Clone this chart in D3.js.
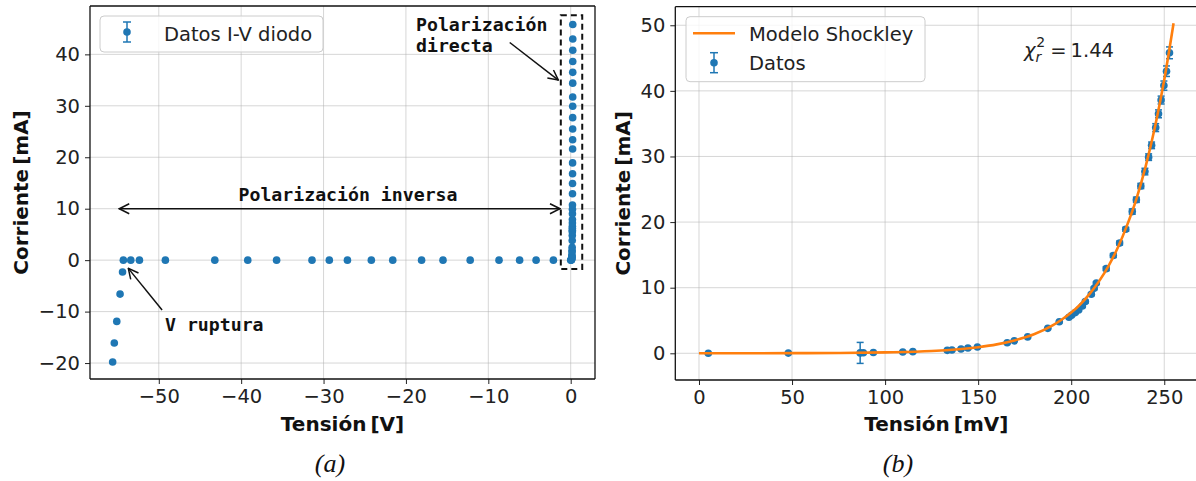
<!DOCTYPE html>
<html>
<head>
<meta charset="utf-8">
<script src="https://cdn.jsdelivr.net/npm/d3@7"></script>
<style>
  body { margin: 0; background: #fff; }
  svg { display: block; font-family: "DejaVu Sans", sans-serif; }
</style>
</head>
<body>
<svg id="chart" width="1196" height="481"></svg>
<script>
// forward bias data (mV, mA) with current uncertainty
const fwdV = [5.0, 48.0, 86.6, 88.3, 93.7, 109.5, 114.9, 133.4, 135.9, 140.8, 144.5, 149.6,
  165.6, 169.4, 176.6, 187.4, 193.6, 198.8, 200.2, 202.2, 204.0, 206.0, 207.6, 210.8, 212.3, 213.5,
  218.8, 222.6, 226.0, 229.3, 232.8, 235.0, 237.4, 239.6, 241.6, 243.2, 245.4, 246.9, 248.3, 249.8, 251.2, 252.8];
const fwdI = [0.0, 0.03, 0.06, 0.08, 0.12, 0.2, 0.25, 0.45, 0.5, 0.65, 0.8, 0.95,
  1.6, 1.9, 2.5, 3.8, 4.8, 5.5, 5.8, 6.2, 6.6, 7.2, 7.9, 9.0, 9.9, 10.7,
  12.9, 14.9, 16.8, 18.9, 21.6, 23.4, 25.5, 27.7, 29.9, 31.7, 34.4, 36.5, 38.6, 40.8, 43.0, 45.8];
const fwdErr = [0.1, 0.1, 1.6, 0.1, 0.1, 0.1, 0.1, 0.1, 0.1, 0.1, 0.1, 0.1,
  0.1, 0.1, 0.1, 0.1, 0.1, 0.1, 0.1, 0.1, 0.1, 0.2, 0.2, 0.2, 0.2, 0.2,
  0.3, 0.3, 0.3, 0.3, 0.4, 0.4, 0.4, 0.5, 0.5, 0.5, 0.6, 0.6, 0.6, 0.7, 0.8, 0.9];

// reverse bias data (V, mA)
const revV = [-55.6, -55.4, -55.1, -54.7, -54.4, -54.3, -53.4, -52.35, -49.2, -43.2, -39.2, -35.7,
  -31.4, -29.3, -27.1, -24.2, -21.6, -18.1, -15.5, -12.2, -8.7, -6.2, -4.2, -2.1];
const revI = [-19.8, -16.1, -11.9, -6.6, -2.3, 0, 0, 0, 0, 0, 0, 0,
  0, 0, 0, 0, 0, 0, 0, 0, 0, 0, 0, 0];

// Shockley model curve
const modelV = [0, 25, 50, 75, 100, 125, 150, 160, 170, 180, 190, 195, 200, 205, 210, 215, 220,
  225, 230, 235, 240, 245, 250, 255];
const modelI = [0, 0.005, 0.02, 0.05, 0.14, 0.35, 0.93, 1.36, 2.0, 2.9, 4.25, 5.15, 6.2, 7.5, 9.1, 11.0, 13.3,
  16.1, 19.5, 23.5, 28.5, 34.5, 41.7, 50.3];

const ticksAx = [-50, -40, -30, -20, -10, 0];
const ticksAy = [-20, -10, 0, 10, 20, 30, 40];
const ticksBx = [0, 50, 100, 150, 200, 250];
const ticksBy = [0, 10, 20, 30, 40, 50];

const blue = "#1f77b4", orange = "#ff7f0e";
const FS = 19.5;
const svg = d3.select("#chart");
const fmt = d => d < 0 ? "\u2212" + Math.abs(d) : String(d);

function panel(xs, ys, xt, yt, spines) {
  const g = svg.append("g");
  const [x0, x1] = xs.range(), [y0, y1] = ys.range();
  // grid
  g.append("g").selectAll("line").data(xt).join("line")
    .attr("x1", d => xs(d)).attr("x2", d => xs(d)).attr("y1", y0).attr("y2", y1)
    .attr("stroke", "#b0b0b0").attr("stroke-opacity", 0.5).attr("stroke-width", 1);
  g.append("g").selectAll("line").data(yt).join("line")
    .attr("y1", d => ys(d)).attr("y2", d => ys(d)).attr("x1", x0).attr("x2", x1)
    .attr("stroke", "#b0b0b0").attr("stroke-opacity", 0.5).attr("stroke-width", 1);
  const ax = g.append("g").attr("transform", `translate(0,${y0})`)
    .call(d3.axisBottom(xs).tickValues(xt).tickFormat(fmt).tickSize(5).tickPadding(5));
  const ay = g.append("g").attr("transform", `translate(${x0},0)`)
    .call(d3.axisLeft(ys).tickValues(yt).tickFormat(fmt).tickSize(5).tickPadding(5));
  [ax, ay].forEach(a => {
    a.select(".domain").remove();
    a.selectAll("text").attr("font-size", FS).attr("fill", "#222").attr("font-family", "DejaVu Sans");
    a.selectAll(".tick line").attr("stroke", "#222");
  });
  const sp = g.append("g").attr("stroke", "#111").attr("stroke-width", 1.3);
  sp.append("line").attr("x1", x0).attr("x2", x0).attr("y1", y0).attr("y2", y1);
  sp.append("line").attr("x1", x0).attr("x2", x1).attr("y1", y0).attr("y2", y0);
  sp.append("line").attr("x1", x0).attr("x2", x1).attr("y1", y1).attr("y2", y1);
  if (spines) sp.append("line").attr("x1", x1).attr("x2", x1).attr("y1", y0).attr("y2", y1);
  return g;
}

function axisLabels(x0, x1, y0, y1, xl, yl, lx) {
  svg.append("text").attr("x", (x0 + x1) / 2).attr("y", 431).attr("text-anchor", "middle")
    .attr("font-size", 20).attr("font-weight", "bold").attr("fill", "#111").text(xl);
  svg.append("text").attr("transform", `translate(${lx},${(y0 + y1) / 2}) rotate(-90)`)
    .attr("text-anchor", "middle").attr("font-size", 20).attr("font-weight", "bold")
    .attr("fill", "#111").text(yl);
}

svg.append("defs").append("marker").attr("id", "arr").attr("viewBox", "0 0 12 12")
  .attr("refX", 11).attr("refY", 6).attr("markerWidth", 12).attr("markerHeight", 12)
  .attr("markerUnits", "userSpaceOnUse").attr("orient", "auto-start-reverse")
  .append("path").attr("d", "M1,1 L11,6 L1,11").attr("fill", "none").attr("stroke", "#111").attr("stroke-width", 1.5);

function errPoints(g, data, xs, ys) {
  const e = g.append("g").attr("stroke", blue).attr("stroke-width", 1.5);
  data.forEach(d => {
    if (d.e <= 0) return;
    e.append("line").attr("x1", xs(d.x)).attr("x2", xs(d.x)).attr("y1", ys(d.y - d.e)).attr("y2", ys(d.y + d.e));
    [d.y - d.e, d.y + d.e].forEach(v => e.append("line").attr("x1", xs(d.x) - 3.5).attr("x2", xs(d.x) + 3.5)
      .attr("y1", ys(v)).attr("y2", ys(v)));
  });
  g.append("g").selectAll("circle").data(data).join("circle")
    .attr("cx", d => xs(d.x)).attr("cy", d => ys(d.y)).attr("r", 3.8).attr("fill", blue);
}

function legendErr(g, x, y) {
  g.append("line").attr("x1", x).attr("x2", x).attr("y1", y - 10).attr("y2", y + 10).attr("stroke", blue).attr("stroke-width", 1.5);
  [y - 10, y + 10].forEach(v => g.append("line").attr("x1", x - 4).attr("x2", x + 4).attr("y1", v).attr("y2", v)
    .attr("stroke", blue).attr("stroke-width", 1.5));
  g.append("circle").attr("cx", x).attr("cy", y).attr("r", 3.8).attr("fill", blue);
}

// ---------- panel (a)
const xa = d3.scaleLinear().domain([-58.35, 2.95]).range([90, 595]);
const ya = d3.scaleLinear().domain([-23.1, 49.4]).range([379, 6]);
const ga = panel(xa, ya, ticksAx, ticksAy, true);
const dataA = revV.map((v, i) => ({ x: v, y: revI[i], e: 0 }))
  .concat(fwdV.map((v, i) => ({ x: v / 1000, y: fwdI[i], e: 0 })));
errPoints(ga, dataA, xa, ya);

// dashed box around forward points
ga.append("rect").attr("x", xa(-1.2)).attr("y", ya(47.6)).attr("width", xa(1.4) - xa(-1.2))
  .attr("height", ya(-1.7) - ya(47.6)).attr("fill", "none").attr("stroke", "#111")
  .attr("stroke-width", 2).attr("stroke-dasharray", "6,4");

const mono = { "font-family": "DejaVu Sans Mono", "font-weight": "bold", "font-size": 18.2, fill: "#111" };
function monoText(x, y, s, anchor) {
  const t = ga.append("text").attr("x", x).attr("y", y).attr("text-anchor", anchor || "start").text(s);
  Object.entries(mono).forEach(([k, v]) => t.attr(k, v));
}
ga.append("line").attr("x1", xa(-54.8)).attr("y1", ya(10)).attr("x2", xa(-1.3)).attr("y2", ya(10))
  .attr("stroke", "#111").attr("stroke-width", 1.5)
  .attr("marker-start", "url(#arr)").attr("marker-end", "url(#arr)");
monoText(348, 201, "Polarización inversa", "middle");
monoText(416, 31, "Polarización");
monoText(416, 52, "directa");
ga.append("line").attr("x1", xa(-7.4)).attr("y1", ya(42.3)).attr("x2", xa(-1.5)).attr("y2", ya(35))
  .attr("stroke", "#111").attr("stroke-width", 1.5).attr("marker-end", "url(#arr)");
monoText(165, 331, "V ruptura");
ga.append("line").attr("x1", xa(-49.6)).attr("y1", ya(-9.7)).attr("x2", xa(-53.7)).attr("y2", ya(-1.6))
  .attr("stroke", "#111").attr("stroke-width", 1.5).attr("marker-end", "url(#arr)");

// legend (a)
ga.append("rect").attr("x", 100).attr("y", 16).attr("width", 223).attr("height", 36).attr("rx", 4)
  .attr("fill", "#fff").attr("fill-opacity", 0.8).attr("stroke", "#ccc");
legendErr(ga, 127, 32);
ga.append("text").attr("x", 164).attr("y", 40.5).attr("font-size", FS).attr("fill", "#222").text("Datos I-V diodo");

axisLabels(90, 595, 6, 379, "Tensión\u2009[V]", "Corriente\u2009[mA]", 28);

// ---------- panel (b)
const xb = d3.scaleLinear().domain([-12.73, 267.75]).range([675.3, 1197.3]);
const yb = d3.scaleLinear().domain([-4.07, 52.83]).range([380, 6.7]);
const gb = panel(xb, yb, ticksBx, ticksBy, false);
const dataB = fwdV.map((v, i) => ({ x: v, y: fwdI[i], e: fwdErr[i] }));
errPoints(gb, dataB, xb, yb);
gb.append("path").datum(modelV.map((v, i) => [v, modelI[i]]))
  .attr("d", d3.line().x(d => xb(d[0])).y(d => yb(d[1])).curve(d3.curveMonotoneX))
  .attr("fill", "none").attr("stroke", orange).attr("stroke-width", 2.6);

gb.append("rect").attr("x", 686).attr("y", 16.7).attr("width", 239).attr("height", 65).attr("rx", 4)
  .attr("fill", "#fff").attr("fill-opacity", 0.8).attr("stroke", "#ccc");
gb.append("line").attr("x1", 693).attr("x2", 735).attr("y1", 33.3).attr("y2", 33.3)
  .attr("stroke", orange).attr("stroke-width", 2.6);
gb.append("text").attr("x", 749).attr("y", 40.5).attr("font-size", FS).attr("fill", "#222").text("Modelo Shockley");
legendErr(gb, 714, 62.7);
gb.append("text").attr("x", 749).attr("y", 69.5).attr("font-size", FS).attr("fill", "#222").text("Datos");

const chi = gb.append("text").attr("x", 1024).attr("y", 57).attr("font-size", FS).attr("fill", "#222");
chi.append("tspan").attr("font-style", "italic").text("χ");
chi.append("tspan").attr("font-style", "italic").attr("font-size", 14).attr("dy", 5).text("r");
chi.append("tspan").attr("font-size", 14).attr("dx", -5).attr("dy", -15).text("2");
chi.append("tspan").attr("dy", 10).attr("dx", 5).text("=");
chi.append("tspan").attr("dx", 4).text("1.44");

axisLabels(675.3, 1197.3, 6.7, 380, "Tensión\u2009[mV]", "Corriente\u2009[mA]", 630);

// captions
[["(a)", 330], ["(b)", 898]].forEach(([s, x]) => svg.append("text").attr("x", x).attr("y", 472)
  .attr("text-anchor", "middle").attr("font-family", "Liberation Serif").attr("font-style", "italic")
  .attr("font-size", 26).attr("fill", "#111").text(s));
</script>
</body>
</html>
